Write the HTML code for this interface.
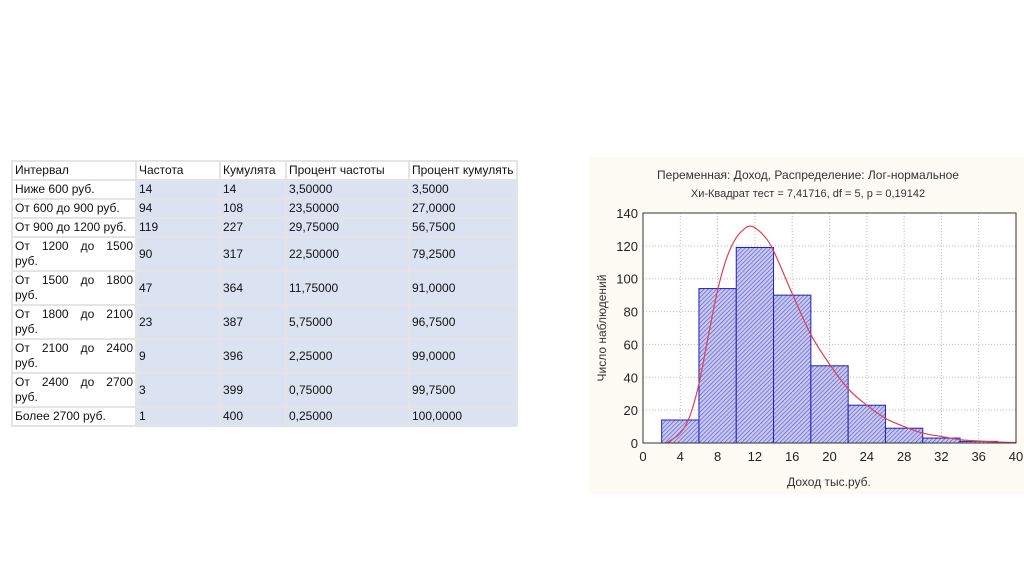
<!DOCTYPE html>
<html><head><meta charset="utf-8"><style>
body{margin:0;width:1024px;height:574px;background:#fff;position:relative;overflow:hidden;font-family:"Liberation Sans",sans-serif}
table{position:absolute;left:11px;top:160px;border-collapse:separate;border-spacing:2px;font-size:12px;color:#111;background:#e4e4e4}
td{padding:0 2px;vertical-align:middle;line-height:15px}
td.c0{background:#fff;width:118px;text-align:justify;text-align-last:left}
td.d{background:#dbe3f2}
tr.h td{background:#fff;height:17px}
tr.s td{height:17px}
tr.t td{height:32px}
.last{width:102px;overflow:hidden;white-space:nowrap;max-width:102px}
</style></head><body>
<table>
<tr class="h"><td class="c0">Интервал</td><td style="width:78px">Частота</td><td style="width:60px">Кумулята</td><td style="width:117px">Процент частоты</td><td class="last">Процент кумулять</td></tr>
<tr class="s"><td class="c0">Ниже 600 руб.</td><td class="d">14</td><td class="d">14</td><td class="d">3,50000</td><td class="d last">3,5000</td></tr>
<tr class="s"><td class="c0">От 600 до 900 руб.</td><td class="d">94</td><td class="d">108</td><td class="d">23,50000</td><td class="d last">27,0000</td></tr>
<tr class="s"><td class="c0">От 900 до 1200 руб.</td><td class="d">119</td><td class="d">227</td><td class="d">29,75000</td><td class="d last">56,7500</td></tr>
<tr class="t"><td class="c0">От 1200 до 1500 руб.</td><td class="d">90</td><td class="d">317</td><td class="d">22,50000</td><td class="d last">79,2500</td></tr>
<tr class="t"><td class="c0">От 1500 до 1800 руб.</td><td class="d">47</td><td class="d">364</td><td class="d">11,75000</td><td class="d last">91,0000</td></tr>
<tr class="t"><td class="c0">От 1800 до 2100 руб.</td><td class="d">23</td><td class="d">387</td><td class="d">5,75000</td><td class="d last">96,7500</td></tr>
<tr class="t"><td class="c0">От 2100 до 2400 руб.</td><td class="d">9</td><td class="d">396</td><td class="d">2,25000</td><td class="d last">99,0000</td></tr>
<tr class="t"><td class="c0">От 2400 до 2700 руб.</td><td class="d">3</td><td class="d">399</td><td class="d">0,75000</td><td class="d last">99,7500</td></tr>
<tr class="s"><td class="c0">Более 2700 руб.</td><td class="d">1</td><td class="d">400</td><td class="d">0,25000</td><td class="d last">100,0000</td></tr>
</table>
<svg id="chart" style="position:absolute;left:0;top:0" width="1024" height="574" font-family="Liberation Sans, sans-serif">
<defs><pattern id="hatch" width="3" height="3" patternUnits="userSpaceOnUse" patternTransform="rotate(45)"><rect width="3" height="3" fill="#c8c8f0"/><line x1="0" y1="0" x2="0" y2="3" stroke="#5050c8" stroke-width="1.2"/></pattern></defs>
<rect x="590" y="157" width="434" height="337" fill="#fcfbf4"/>
<text x="808" y="179" text-anchor="middle" font-size="12" fill="#333">Переменная: Доход, Распределение: Лог-нормальное</text>
<text x="808" y="197" text-anchor="middle" font-size="11" fill="#333">Хи-Квадрат тест = 7,41716, df = 5, p = 0,19142</text>
<text transform="translate(606,328) rotate(-90)" text-anchor="middle" font-size="12" fill="#333">Число наблюдений</text>
<text x="829" y="486" text-anchor="middle" font-size="12" fill="#333">Доход тыс.руб.</text>
<g id="grid"></g><g id="bars"></g><g id="curve"></g><g id="axes"></g>
</svg>
<script>
const binStarts=[2,6,10,14,18,22,26,30,34];
const binWidth=4;
const counts=[14,94,119,90,47,23,9,3,1];
const curveX=[2.5,4,5,6,7,8,9,10,11,11.5,12,13,14,16,18,20,22,24,26,28,30,32,34,36,38,40];
const curveY=[0,6,16,36,65,93,113,125,131,132,131,126,117,91,66,48,33,23,15,10,6,4,2,1.2,0.6,0.3];
const xTicks=[0,4,8,12,16,20,24,28,32,36,40];
const yTicks=[0,20,40,60,80,100,120,140];
const X0=643,X1=1016,Y0=443,Y1=213;
const xs=v=>X0+(v-0)/(40-0)*(X1-X0);
const ys=v=>Y0-(v-0)/(140-0)*(Y0-Y1);
const NS='http://www.w3.org/2000/svg';
function mk(tag,attrs,parent){const e=document.createElementNS(NS,tag);for(const k in attrs)e.setAttribute(k,attrs[k]);document.getElementById(parent).appendChild(e);return e;}
mk('rect',{x:X0,y:Y1,width:X1-X0,height:Y0-Y1,fill:'#fff'},'grid');
xTicks.forEach(t=>{const l=mk('line',{x1:xs(t),x2:xs(t),y1:Y1,y2:Y0,stroke:'#bbb','stroke-dasharray':'1,2'},'grid');


const tx=mk('text',{x:xs(t),y:Y0+18,'text-anchor':'middle','font-size':13,fill:'#222'},'axes');tx.textContent=t;

});
yTicks.forEach(t=>{const l=mk('line',{x1:X0,x2:X1,y1:ys(t),y2:ys(t),stroke:'#bbb','stroke-dasharray':'1,2'},'grid');


const tx=mk('text',{x:X0-5,y:ys(t)+5,'text-anchor':'end','font-size':13,fill:'#222'},'axes');tx.textContent=t;

});
counts.forEach((c,i)=>{const r=mk('rect',{x:xs(binStarts[i]),y:ys(c),width:xs(binStarts[i]+binWidth)-xs(binStarts[i]),height:ys(0)-ys(c),fill:'url(#hatch)',stroke:'#2020c0','stroke-width':1},'bars');

});
const pts=curveX.map((x,i)=>[xs(x),ys(curveY[i])]);
let d='M'+pts[0][0]+','+pts[0][1];
for(let i=0;i<pts.length-1;i++){const p0=pts[Math.max(0,i-1)],p1=pts[i],p2=pts[i+1],p3=pts[Math.min(pts.length-1,i+2)];
d+=' C'+(p1[0]+(p2[0]-p0[0])/6)+','+(p1[1]+(p2[1]-p0[1])/6)+' '+(p2[0]-(p3[0]-p1[0])/6)+','+(p2[1]-(p3[1]-p1[1])/6)+' '+p2[0]+','+p2[1];}
const p=mk('path',{d:d,fill:'none',stroke:'#e04050','stroke-width':1.2},'curve');


const f=mk('rect',{x:X0,y:Y1,width:X1-X0,height:Y0-Y1,fill:'none',stroke:'#333'},'axes');


</script>
</body></html>
